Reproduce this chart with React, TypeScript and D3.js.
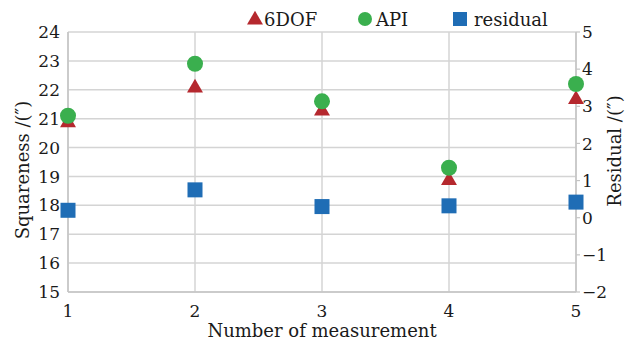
import React from "react";
import * as d3 from "d3";

const measurements = [1, 2, 3, 4, 5];
const dof6 = [20.9, 22.1, 21.3, 18.9, 21.7];
const api = [21.1, 22.9, 21.6, 19.3, 22.2];
const residual = [0.2, 0.75, 0.3, 0.32, 0.42];
const leftTicks = [15, 16, 17, 18, 19, 20, 21, 22, 23, 24];
const rightTicks = [-2, -1, 0, 1, 2, 3, 4, 5];

const W = 625;
const H = 345;
const margin = { left: 68, right: 49, top: 32, bottom: 53 };
const font = "'DejaVu Serif', serif";

const red = "#b5282e";
const green = "#3aaf4e";
const blue = "#1f6db5";

export default function App() {
    const x = d3.scaleLinear().domain([1, 5]).range([margin.left, W - margin.right]);
    const yL = d3.scaleLinear().domain([15, 24]).range([H - margin.bottom, margin.top]);
    const yR = d3.scaleLinear().domain([-2, 5]).range([H - margin.bottom, margin.top]);
    const tri = d3.symbol().type(d3.symbolTriangle).size(110)();
    const x0 = margin.left, x1 = W - margin.right;
    const y0 = H - margin.bottom, y1 = margin.top;
    const minus = (v: number) => (v < 0 ? "\u2212" + Math.abs(v) : String(v));

    return (
        <svg width={W} height={H} style={{ position: "absolute", left: 0, top: 0 }} fontFamily={font}>
            <rect width={W} height={H} fill="#fff" />
            {/* grid */}
            {leftTicks.map(t => (
                <line key={"h" + t} x1={x0} x2={x1} y1={yL(t)} y2={yL(t)} stroke="#d4d4d4" strokeWidth={1.5} />
            ))}
            {measurements.map(m => (
                <line key={"v" + m} x1={x(m)} x2={x(m)} y1={y0} y2={y1} stroke="#d4d4d4" strokeWidth={1.5} />
            ))}
            {/* axes */}
            <line x1={x0} x2={x0} y1={y0} y2={y1} stroke="#c4c4c4" strokeWidth={1.5} />
            <line x1={x1} x2={x1} y1={y0} y2={y1} stroke="#c4c4c4" strokeWidth={1.5} />
            <line x1={x0} x2={x1} y1={y0} y2={y0} stroke="#c4c4c4" strokeWidth={1.5} />
            {rightTicks.map(t => (
                <line key={"rt" + t} x1={x1} x2={x1 + 4} y1={yR(t)} y2={yR(t)} stroke="#c4c4c4" strokeWidth={1.2} />
            ))}
            {/* tick labels */}
            {leftTicks.map(t => (
                <text key={"lt" + t} x={x0 - 8} y={yL(t)} dy="0.36em" textAnchor="end" fontSize={17} fill="#1a1a1a">{t}</text>
            ))}
            {rightTicks.map(t => (
                <text key={"rl" + t} x={x1 + 6} y={yR(t)} dy="0.36em" textAnchor="start" fontSize={17} fill="#1a1a1a">{minus(t)}</text>
            ))}
            {measurements.map(m => (
                <text key={"xt" + m} x={x(m)} y={y0 + 25} textAnchor="middle" fontSize={17} fill="#1a1a1a">{m}</text>
            ))}
            {/* axis titles */}
            <text x={(x0 + x1) / 2} y={337} textAnchor="middle" fontSize={18} fill="#1a1a1a">Number of measurement</text>
            <text transform={`translate(29,170) rotate(-90)`} textAnchor="middle" fontSize={18} fill="#1a1a1a">Squareness /(″)</text>
            <text transform={`translate(621,151) rotate(-90)`} textAnchor="middle" fontSize={18} fill="#1a1a1a">Residual /(″)</text>
            {/* series */}
            {dof6.map((v, i) => (
                <path key={"d" + i} d={tri!} transform={`translate(${x(measurements[i])},${yL(v) + 1})`} fill={red} />
            ))}
            {api.map((v, i) => (
                <circle key={"a" + i} cx={x(measurements[i])} cy={yL(v)} r={8} fill={green} />
            ))}
            {residual.map((v, i) => (
                <rect key={"r" + i} x={x(measurements[i]) - 7.5} y={yR(v) - 7.5} width={15} height={15} fill={blue} />
            ))}
            {/* legend */}
            <path d={tri!} transform="translate(255,20)" fill={red} />
            <text x={264} y={26} fontSize={18} fill="#1a1a1a">6DOF</text>
            <circle cx={365} cy={19} r={7} fill={green} />
            <text x={376} y={26} fontSize={18} fill="#1a1a1a">API</text>
            <rect x={453} y={12} width={14} height={14} fill={blue} />
            <text x={474} y={26} fontSize={18} fill="#1a1a1a">residual</text>
        </svg>
    );
}
